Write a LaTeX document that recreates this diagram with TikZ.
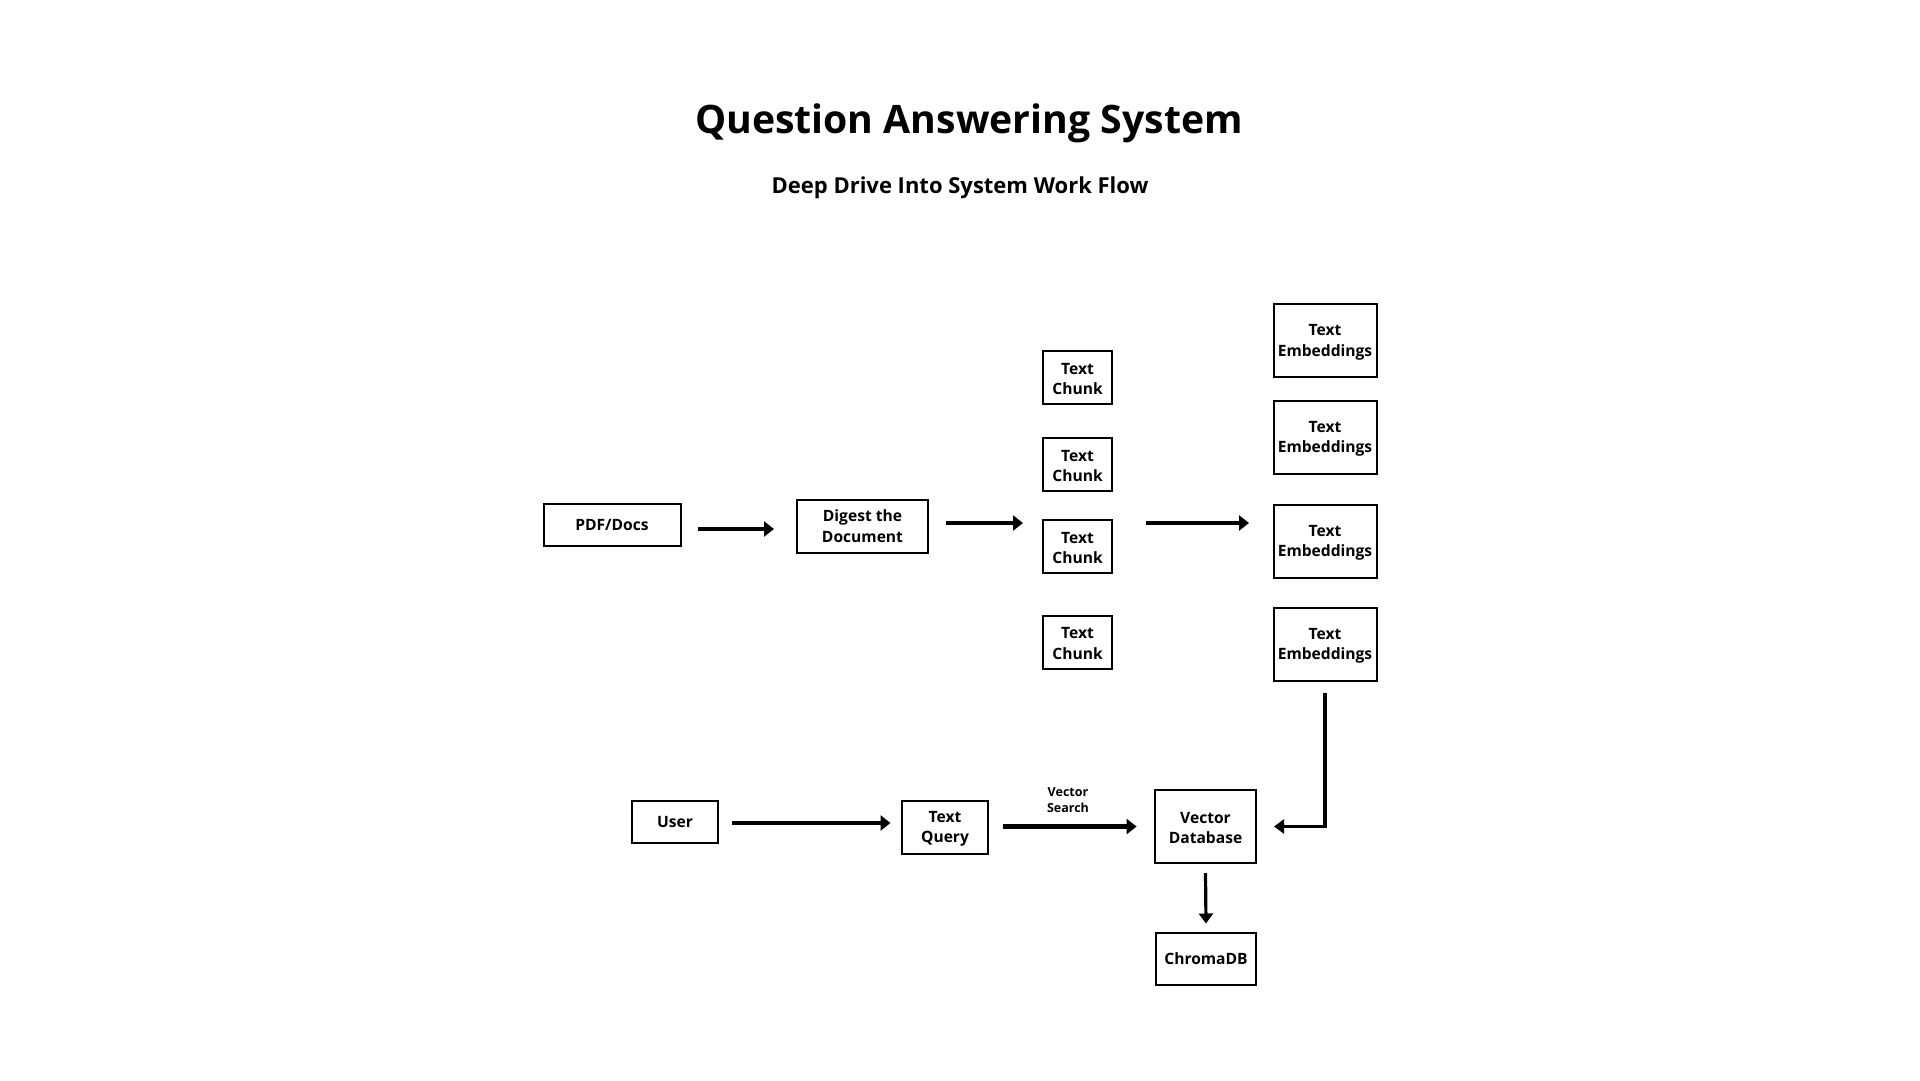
\documentclass[tikz,border=0pt]{standalone}
\usepackage{fontspec}
\setmainfont{Open Sans}
\usetikzlibrary{arrows.meta,calc}
\begin{document}
\begin{tikzpicture}[x=1pt,y=-1pt,
  box/.style={draw=black,line width=2pt,inner sep=0pt,align=center,
    font=\fontsize{15.6}{20.5}\selectfont\bfseries},
  arr/.style={line width=4.5pt,-{Triangle[width=15pt,length=10pt]}},
  arrthin/.style={line width=3.2pt,-{Triangle[width=14pt,length=10pt]}}]
\useasboundingbox[fill=white] (0,0) rectangle (1920,1080);
\node (title) at (969,123) {\fontsize{39.2}{47}\selectfont\bfseries Question Answering System};
\node (sub) at (960,188) {\fontsize{22}{27}\selectfont\bfseries Deep Drive Into System Work Flow};
\node[box,minimum width=137,minimum height=42] (pdf) at (612,525) {\raisebox{-2pt}{PDF/Docs}};
\node[box,minimum width=131,minimum height=53] (dig) at (862.5,526) {Digest the\\Document};
\foreach \n/\y in {c1/377.5,c2/464.5,c3/546.5,c4/642}
  \node[box,minimum width=69,minimum height=53] (\n) at (1077.5,\y) {\strut Text\\Chunk};
\foreach \n/\y in {e1/340.5,e2/437,e3/541,e4/644}
  \node[box,minimum width=103,minimum height=73] (\n) at (1325,\y) {\strut Text\\Embeddings};
\node[box,minimum width=86,minimum height=42] (user) at (675,822) {\raisebox{-1.5pt}{User}};
\node[box,minimum width=86,minimum height=53] (query) at (945,827) {\strut Text\\Query};
\node[box,minimum width=101,minimum height=73] (vdb) at (1205.5,826.5) {\strut Vector\\Database};
\node[box,minimum width=100,minimum height=52] (chroma) at (1206,959) {\raisebox{-1.5pt}{ChromaDB}};
\node[align=center,inner sep=0pt,font=\fontsize{12.5}{16.5}\selectfont\bfseries] (lab) at (1068,800) {Vector\\Search};
\draw[arr] ($(pdf.east)+(16,4)$) -- ($(dig.west)+(-22,3)$);
\draw[arr] ($(dig.east)+(17,-3)$) -- ($(c3.west |- dig.east)+(-19,-3)$);
\draw[arr] ($(c3.east)+(33,-23.5)$) -- ($(e3.west)+(-23.5,-18)$);
\draw[arrthin] ($(e4.south)+(0,11)$) |- ($(vdb.east)+(17,0)$);
\draw[arr] ($(user.east)+(13,1)$) -- ($(query.west)+(-10.5,-4)$);
\draw[arr] ($(query.east)+(13.6,-0.5)$) -- ($(vdb.west)+(-17.4,0)$);
\draw[arrthin] ($(vdb.south)+(0,9)$) -- ($(chroma.north)+(0,-8.5)$);
\end{tikzpicture}
\end{document}
